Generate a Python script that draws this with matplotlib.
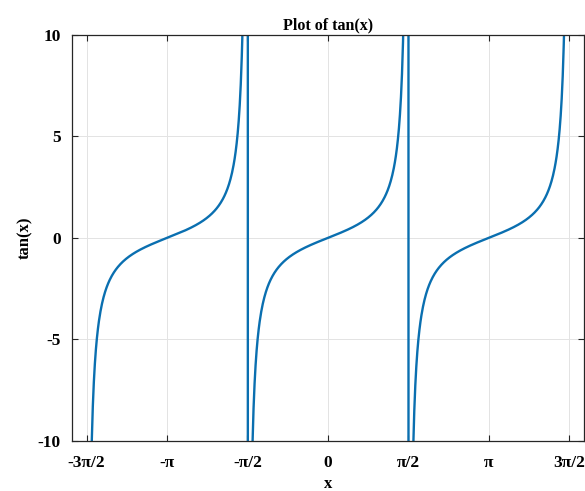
import numpy as np
import matplotlib.pyplot as plt

plt.rcParams['font.family'] = ['Liberation Serif', 'DejaVu Serif']
plt.rcParams['font.weight'] = 'bold'
plt.rcParams['axes.unicode_minus'] = False

# sampled function, as in the original: x from -3pi/2 to 3pi/2
x_start = -3 * np.pi / 2
x_end = 3 * np.pi / 2
x_step = 0.01
x = np.arange(x_start, x_end + x_step / 2, x_step)
y = np.clip(np.tan(x), -1e4, 1e4)

xtick_vals = [-3 * np.pi / 2, -np.pi, -np.pi / 2, 0, np.pi / 2, np.pi, 3 * np.pi / 2]
xtick_labels = ['-3\u03c0/2', '-\u03c0', '-\u03c0/2', '0', '\u03c0/2', '\u03c0', '3\u03c0/2']
ytick_vals = [-10, -5, 0, 5, 10]

fig = plt.figure(figsize=(5.85, 4.91), dpi=100)
ax = fig.add_axes([0.123, 0.102, 0.875, 0.827])

ax.plot(x, y, color='#0a6fb0', linewidth=1.7)

ax.set_xlim(-5, 5)
ax.set_ylim(-10, 10)
ax.set_xticks(xtick_vals)
ax.set_xticklabels(xtick_labels)
ax.set_yticks(ytick_vals)
ax.tick_params(direction='in', length=4, width=0.8, top=True, right=True,
               labelsize=12.5, colors='#262626')
ax.tick_params(axis='x', pad=10)
ax.tick_params(axis='y', pad=8)
for lab in ax.get_xticklabels() + ax.get_yticklabels():
    lab.set_color('black')
    lab.set_fontweight('bold')

ax.grid(True, color='#e3e3e3', linewidth=0.7)
ax.set_axisbelow(True)
for s in ax.spines.values():
    s.set_color('#262626')
    s.set_linewidth(0.9)

ax.set_title('Plot of tan(x)', fontsize=11.5, fontweight='bold', pad=4)
ax.set_xlabel('x', fontsize=12, fontweight='bold', labelpad=4)
ax.set_ylabel('tan(x)', fontsize=12, fontweight='bold', labelpad=3)

fig.savefig('out.png', dpi=100)
